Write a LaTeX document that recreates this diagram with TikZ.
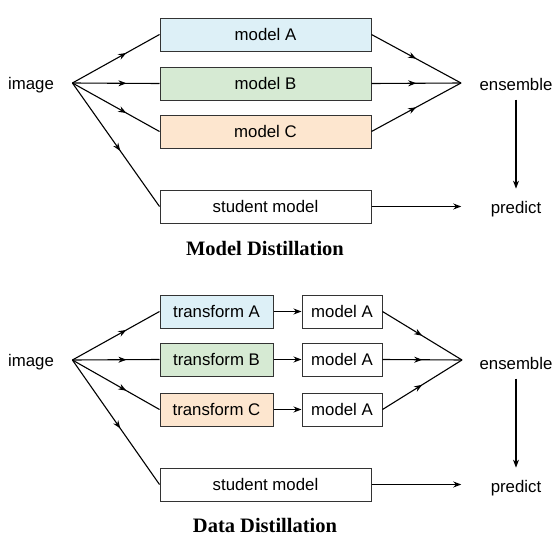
\documentclass[tikz,border=0pt]{standalone}
\usepackage{fontspec}
\setmainfont{Liberation Sans}
\newfontfamily\titlefont{Liberation Serif}
\usepackage{tikz}
\usetikzlibrary{calc,arrows.meta,decorations.markings}

\definecolor{blueA}{HTML}{DDF0F7}
\definecolor{greenB}{HTML}{D6EAD3}
\definecolor{orangeC}{HTML}{FDE6CF}

\tikzset{
  box/.style={draw=black!80,rectangle,line width=1pt,minimum height=33pt,inner sep=0pt,font=\fontsize{16.8}{19}\selectfont},
  lbl/.style={font=\fontsize{16.8}{19}\selectfont},
  ttl/.style={font=\titlefont\bfseries\fontsize{20.5}{24}\selectfont},
  line/.style={line width=1.1pt},
  tomid/.style={line,postaction={decorate},decoration={markings,mark=at position #1 with {\arrow{Stealth[length=8pt,width=6pt]}}}},
  toend/.style={line,-{Stealth[length=8pt,width=6pt]}}
}

\begin{document}
\begin{tikzpicture}[x=1pt,y=-1pt]
\useasboundingbox (0,0) rectangle (558,541);

% model distillation
\draw node [lbl](imgA) at (31,85){image};
\coordinate (fanA) at ($ (imgA.east) + (15,-2) $);
\draw node [box,fill=blueA,minimum width=211pt](mA) at (265.5,34.5){model A};
\draw node [box,fill=greenB,minimum width=211pt](mB) at (265.5,83.5){model B};
\draw node [box,fill=orangeC,minimum width=211pt](mC) at (265.5,131.5){model C};
\draw node [box,fill=white,minimum width=211pt](stuA) at (265.5,206.5){student model};
\coordinate (joinA) at (461,83);
\draw node [lbl](ensA) at (516,84){ensemble};
\draw node [lbl](predA) at (516,209){predict};
\draw node [ttl](titleA) at (265,248){Model Distillation};

\draw[tomid=0.62] (fanA) -- (mA.west);
\draw[tomid=0.62] (fanA) -- (mB.west);
\draw[tomid=0.62] (fanA) -- (mC.west);
\draw[tomid=0.55] (fanA) -- (stuA.west);
\draw[tomid=0.5] (mA.east) -- (joinA);
\draw[tomid=0.5] (mB.east) -- (joinA);
\draw[tomid=0.5] (mC.east) -- (joinA);
\draw[toend,shorten <=6pt,shorten >=9pt] (ensA) -- (predA);
\draw[toend,shorten >=26pt] (stuA.east) -- (stuA.east -| predA.west);

% data distillation
\draw node [lbl](imgB) at (31,362){image};
\coordinate (fanB) at ($ (imgB.east) + (15,-2) $);
\draw node [box,fill=blueA,minimum width=113pt](tA) at (216.5,311.5){transform A};
\draw node [box,fill=greenB,minimum width=113pt](tB) at (216.5,359.5){transform B};
\draw node [box,fill=orangeC,minimum width=113pt](tC) at (216.5,409.5){transform C};
\draw node [box,fill=white,minimum width=80pt](dA) at (342,311.5){model A};
\draw node [box,fill=white,minimum width=80pt](dB) at (342,359.5){model A};
\draw node [box,fill=white,minimum width=80pt](dC) at (342,409.5){model A};
\draw node [box,fill=white,minimum width=211pt](stuB) at (265.5,484.5){student model};
\coordinate (joinB) at (462,360);
\draw node [lbl](ensB) at (516,363){ensemble};
\draw node [lbl](predB) at (516,488){predict};
\draw node [ttl](titleB) at (265,525){Data Distillation};

\draw[tomid=0.62] (fanB) -- (tA.west);
\draw[tomid=0.62] (fanB) -- (tB.west);
\draw[tomid=0.62] (fanB) -- (tC.west);
\draw[tomid=0.55] (fanB) -- (stuB.west);
\draw[toend] (tA) -- (dA);
\draw[toend] (tB) -- (dB);
\draw[toend] (tC) -- (dC);
\draw[tomid=0.5] (dA.east) -- (joinB);
\draw[tomid=0.5] (dB.east) -- (joinB);
\draw[tomid=0.5] (dC.east) -- (joinB);
\draw[toend,shorten <=6pt,shorten >=9pt] (ensB) -- (predB);
\draw[toend,shorten >=26pt] (stuB.east) -- (stuB.east -| predB.west);

\end{tikzpicture}
\end{document}
